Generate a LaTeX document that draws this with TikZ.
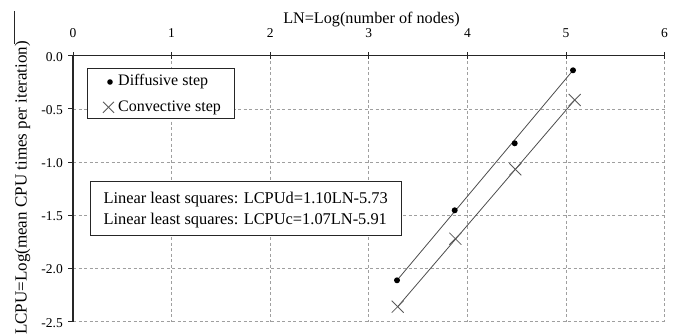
\documentclass[tikz,border=0pt]{standalone}
\usepackage{fontspec}
\setmainfont{Liberation Serif}
\usetikzlibrary{calc}
\begin{document}
\begin{tikzpicture}[x=1pt,y=-1pt,
  gridline/.style={draw=gray!75, line width=0.7pt, dash pattern=on 3pt off 2.5pt},
  axisline/.style={draw=black!85, line width=1.1pt},
  tickline/.style={draw=black!85, line width=0.9pt},
  ticklab/.style={font=\fontsize{13.5}{15}\selectfont, inner sep=0pt},
  boxstyle/.style={draw=black!85, line width=0.9pt, fill=white},
  fitline/.style={draw=black!70, line width=0.8pt},
  dmark/.style={fill=black, draw=none},
  cmark/.style={draw=black!65, line width=0.8pt},
  txt/.style={inner sep=0pt, anchor=west}]
\useasboundingbox (0,0) rectangle (677,336);
\def\xo{73}\def\xs{98.6}\def\yo{55.7}\def\ys{106.4}
% grid
\foreach \i in {1,...,6}{
  \draw[gridline] ({\xo+\xs*\i},\yo) -- ({\xo+\xs*\i},{\yo+2.5*\ys});
}
\foreach \j in {1,...,5}{
  \draw[gridline] (\xo,{\yo+0.5*\ys*\j}) -- ({\xo+6*\xs},{\yo+0.5*\ys*\j});
}
% axes
\draw[axisline] (\xo,\yo) -- ({\xo+6*\xs},\yo);
\draw[axisline] (\xo,\yo) -- (\xo,{\yo+2.5*\ys});
\foreach \i in {0,...,6}{
  \draw[tickline] ({\xo+\xs*\i},{\yo-3.5}) -- ({\xo+\xs*\i},{\yo+3});
  \node[ticklab] (xt\i) at ({\xo+\xs*\i},33) {\i};
}
\foreach \j/\l in {0/0.0,1/-0.5,2/-1.0,3/-1.5,4/-2.0,5/-2.5}{
  \draw[tickline] ({\xo-5},{\yo+0.5*\ys*\j}) -- (\xo,{\yo+0.5*\ys*\j});
  \node[ticklab, anchor=east] (yt\j) at (63,{\yo+0.5*\ys*\j+1}) {\l};
}
% axis titles
\node[inner sep=0pt, font=\fontsize{16.2}{18}\selectfont] (xtitle) at (371.5,20) {LN=Log(number of nodes)};
\node[inner sep=0pt, rotate=90, font=\fontsize{17}{19}\selectfont] (ytitle) at (22.5,188) {LCPU=Log(mean CPU times per iteration)};
\draw[black!85, line width=0.9pt] (14.5,11) -- (14.5,44);
% data coordinates
\coordinate (d1) at (397,280.3);
\coordinate (d2) at (454.7,210.3);
\coordinate (d3) at (514.7,143.3);
\coordinate (d4) at (573,70.3);
\coordinate (c1) at (397.7,306.7);
\coordinate (c2) at (455.3,238.7);
\coordinate (c3) at (515.3,169.3);
\coordinate (c4) at (574.7,100);
\draw[fitline] (d1) -- (d4);
\draw[fitline] (c1) -- (c4);
\foreach \p in {d1,d2,d3,d4}{ \fill[dmark] (\p) circle (3pt); }
\foreach \p in {c1,c2,c3,c4}{
  \draw[cmark] ($(\p)+(-6,-6)$) -- ($(\p)+(6,6)$);
  \draw[cmark] ($(\p)+(-6,6)$) -- ($(\p)+(6,-6)$);
}
% legend
\draw[boxstyle] (87.7,68.3) rectangle (234.3,118.3);
\coordinate (lg1) at (110,82);
\coordinate (lg2) at (108.5,107.3);
\fill[dmark] (lg1) circle (2.8pt);
\draw[cmark] ($(lg2)+(-5.5,-5.5)$) -- ($(lg2)+(5.5,5.5)$);
\draw[cmark] ($(lg2)+(-5.5,5.5)$) -- ($(lg2)+(5.5,-5.5)$);
\node[txt, font=\fontsize{16}{18}\selectfont] (lgt1) at (118,82) {Diffusive step};
\node[txt, font=\fontsize{16}{18}\selectfont] (lgt2) at (118,107.5) {Convective step};
% fit box
\draw[boxstyle] (90,181) rectangle (401,235);
\node[txt, font=\fontsize{16.4}{18}\selectfont] (f1) at (103.3,199.5) {Linear least squares: LCPUd=1.10LN-5.73};
\node[txt, font=\fontsize{16.4}{18}\selectfont] (f2) at (103.3,221) {Linear least squares: LCPUc=1.07LN-5.91};
\end{tikzpicture}
\end{document}
